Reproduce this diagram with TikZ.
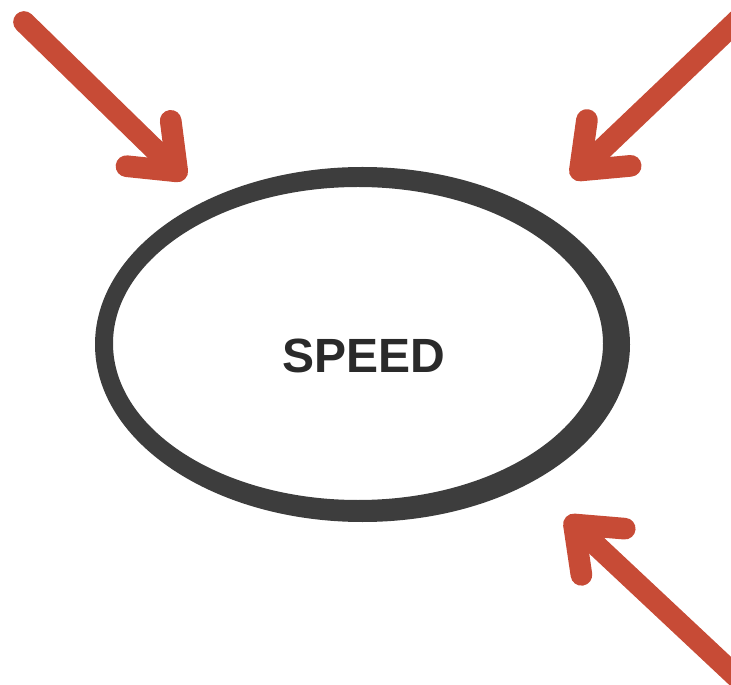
\documentclass[tikz,border=0pt]{standalone}
\usepackage{fontspec}
\setmainfont{Liberation Sans}
\usepackage{xcolor}
\usepackage{tikz}
\usetikzlibrary{positioning, shapes.geometric, arrows.meta}
\definecolor{arrowred}{HTML}{C74B36}
\definecolor{ringgray}{HTML}{3D3D3D}
\definecolor{textgray}{HTML}{2A2A2A}

\begin{document}
\begin{tikzpicture}[x=0.03cm, y=-0.03cm,
		push/.style={draw=arrowred, line width=0.65cm, line cap=round,
			-{Straight Barb[length=1.2cm, width=1.9cm, round]}}]
	\useasboundingbox (0,0) rectangle (731,685);
	% ring, thicker on the right
	\fill[ringgray, even odd rule] (362.5,344.5) ellipse [x radius=267.5, y radius=177.5]
		(358,343.5) ellipse [x radius=245, y radius=156.5];
	\node[text=textgray, font=\fontsize{41}{41}\selectfont\bfseries] (speed) at (364,356) {SPEED};
	\coordinate (s1) at (24,22);
	\coordinate (t1) at (185,179);
	\coordinate (s2) at (742,16);
	\coordinate (t2) at (572,178);
	\coordinate (s3) at (742,682);
	\coordinate (t3) at (566,517);
	\draw[push] (s1) -- (t1);
	\draw[push] (s2) -- (t2);
	\draw[push] (s3) -- (t3);

\end{tikzpicture}
\end{document}
